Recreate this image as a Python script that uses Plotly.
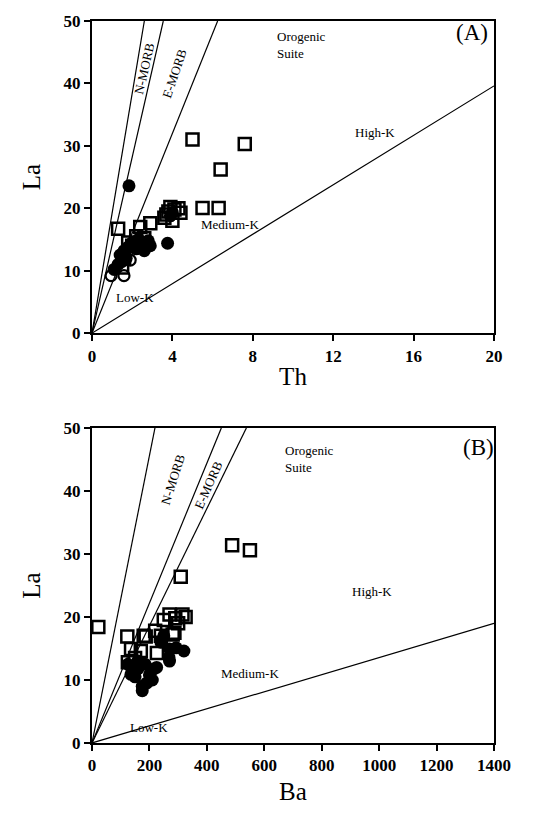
import plotly.graph_objects as go
from plotly.subplots import make_subplots

# ---------------- data ----------------
# Panel A (La vs Th)
sqA_th = [1.3, 2.4, 2.9, 2.2, 1.8, 1.6, 3.6, 3.8, 3.9, 4.1, 4.3, 4.0, 4.4, 3.7, 5.5, 6.3, 6.4, 5.0, 7.6, 1.5, 2.0, 2.6]
sqA_la = [16.7, 17.0, 17.6, 15.5, 14.5, 12.0, 18.5, 19.5, 20.2, 19.8, 20.0, 18.0, 19.3, 19.0, 20.05, 20.05, 26.2, 31.0, 30.3, 10.5, 14.0, 15.2]
ciA_th = [1.84, 3.76, 1.1, 1.3, 1.4, 1.5, 1.6, 1.8, 2.0, 2.2, 2.4, 2.6, 2.8, 2.9, 3.9, 4.0, 1.7, 2.3]
ciA_la = [23.6, 14.4, 10.2, 11.0, 12.5, 11.5, 13.2, 13.8, 14.5, 13.5, 14.8, 13.2, 14.8, 14.0, 18.8, 19.3, 12.0, 15.0]
ocA_th = [0.95, 1.59, 1.9]
ocA_la = [9.2, 9.2, 11.7]

# Panel B (La vs Ba)
sqB_ba = [22, 488, 550, 309, 123, 187, 220, 250, 270, 290, 315, 300, 326, 281, 226, 136, 170, 125, 240, 287, 180, 150]
sqB_la = [18.4, 31.4, 30.6, 26.4, 16.9, 16.9, 17.8, 19.5, 20.4, 19.8, 20.4, 19.0, 20.0, 17.2, 14.3, 14.9, 14.6, 12.8, 17.0, 17.5, 17.0, 13.5]
ciB_ba = [270, 293, 320, 270, 268, 125, 140, 150, 160, 175, 190, 200, 214, 225, 136, 175, 185, 160, 240, 250, 210]
ciB_la = [14.9, 15.1, 14.6, 13.0, 13.6, 12.5, 11.5, 10.5, 11.8, 8.3, 9.5, 10.8, 11.7, 12.0, 10.9, 9.0, 12.5, 13.0, 16.0, 17.0, 10.0]

# boundary lines through origin (La / X slopes)
slopesA = [19.2, 14.1, 8.0, 1.98]
slopesB = [0.228, 0.111, 0.093, 0.01357]
xmaxA, xmaxB, ymax = 20, 1400, 50

# labels: (text, x, y, angle, xanchor)
labelsA = [("N-MORB", 2.6, 42.4, -77, "center"), ("E-MORB", 4.1, 41.6, -71, "center"),
           ("Orogenic<br>Suite", 9.1, 46.1, 0, "left"), ("High-K", 14.1, 32.1, 0, "center"),
           ("Medium-K", 5.3, 17.4, 0, "left"), ("Low-K", 2.15, 5.7, 0, "center")]
labelsB = [("N-MORB", 282, 41.8, -72, "center"), ("E-MORB", 404, 40.9, -66, "center"),
           ("Orogenic<br>Suite", 665, 45.0, 0, "left"), ("High-K", 975, 24.0, 0, "center"),
           ("Medium-K", 550, 11.0, 0, "center"), ("Low-K", 199, 2.5, 0, "center")]

SERIF = "Liberation Serif"

fig = make_subplots(rows=2, cols=1, vertical_spacing=0.13)

def add_lines(slopes, xmax, row):
    for s in slopes:
        xe = min(xmax, ymax / s)
        fig.add_trace(go.Scatter(x=[0, xe], y=[0, s * xe], mode="lines",
                                 line=dict(color="black", width=1.2),
                                 showlegend=False, hoverinfo="skip"), row=row, col=1)

add_lines(slopesA, xmaxA, 1)
add_lines(slopesB, xmaxB, 2)

sq_style = dict(symbol="square-open", size=12, color="black", line=dict(width=2.5, color="black"))
ci_style = dict(symbol="circle", size=13, color="black")
oc_style = dict(symbol="circle-open", size=11, color="black", line=dict(width=2.2, color="black"))

fig.add_trace(go.Scatter(x=ciA_th, y=ciA_la, mode="markers", marker=ci_style, showlegend=False), row=1, col=1)
fig.add_trace(go.Scatter(x=ocA_th, y=ocA_la, mode="markers", marker=oc_style, showlegend=False), row=1, col=1)
fig.add_trace(go.Scatter(x=sqA_th, y=sqA_la, mode="markers", marker=sq_style, showlegend=False), row=1, col=1)
fig.add_trace(go.Scatter(x=ciB_ba, y=ciB_la, mode="markers", marker=ci_style, showlegend=False), row=2, col=1)
fig.add_trace(go.Scatter(x=sqB_ba, y=sqB_la, mode="markers", marker=sq_style, showlegend=False), row=2, col=1)

for labels, xr, yr in [(labelsA, "x", "y"), (labelsB, "x2", "y2")]:
    for t, x, y, a, xa in labels:
        fig.add_annotation(x=x, y=y, xref=xr, yref=yr, text=t, showarrow=False,
                           textangle=a, xanchor=xa, align="left",
                           font=dict(family=SERIF, size=13, color="black"))

fig.add_annotation(x=18.9, y=48.2, xref="x", yref="y", text="(A)", showarrow=False,
                   font=dict(family=SERIF, size=23, color="black"))
fig.add_annotation(x=1345, y=46.9, xref="x2", yref="y2", text="(B)", showarrow=False,
                   font=dict(family=SERIF, size=23, color="black"))

axis_common = dict(showgrid=False, zeroline=False, showline=True, linecolor="black", linewidth=2,
                   mirror=True, ticks="outside", ticklen=6, tickwidth=2, tickcolor="black",
                   tickfont=dict(family=SERIF, size=17, color="black", weight="bold"),
                   title_font=dict(family=SERIF, size=25, color="black"))

fig.update_xaxes(**axis_common, range=[0, 20], tick0=0, dtick=4, title_text="Th", title_standoff=3, row=1, col=1)
fig.update_xaxes(**axis_common, range=[0, 1400], tick0=0, dtick=200, title_text="Ba", title_standoff=8, row=2, col=1)
fig.update_yaxes(**axis_common, range=[0, 50], tick0=0, dtick=10, title_text="La", title_standoff=16, row=1, col=1)
fig.update_yaxes(**axis_common, range=[0, 50], tick0=0, dtick=10, title_text="La", title_standoff=16, row=2, col=1)

fig.update_layout(width=544, height=825, plot_bgcolor="white", paper_bgcolor="white",
                  margin=dict(l=92, r=50, t=12, b=82))
fig.layout.yaxis.domain = [0.5677, 1.0]
fig.layout.yaxis2.domain = [0.0, 0.4364]

fig.write_html("out.html")
